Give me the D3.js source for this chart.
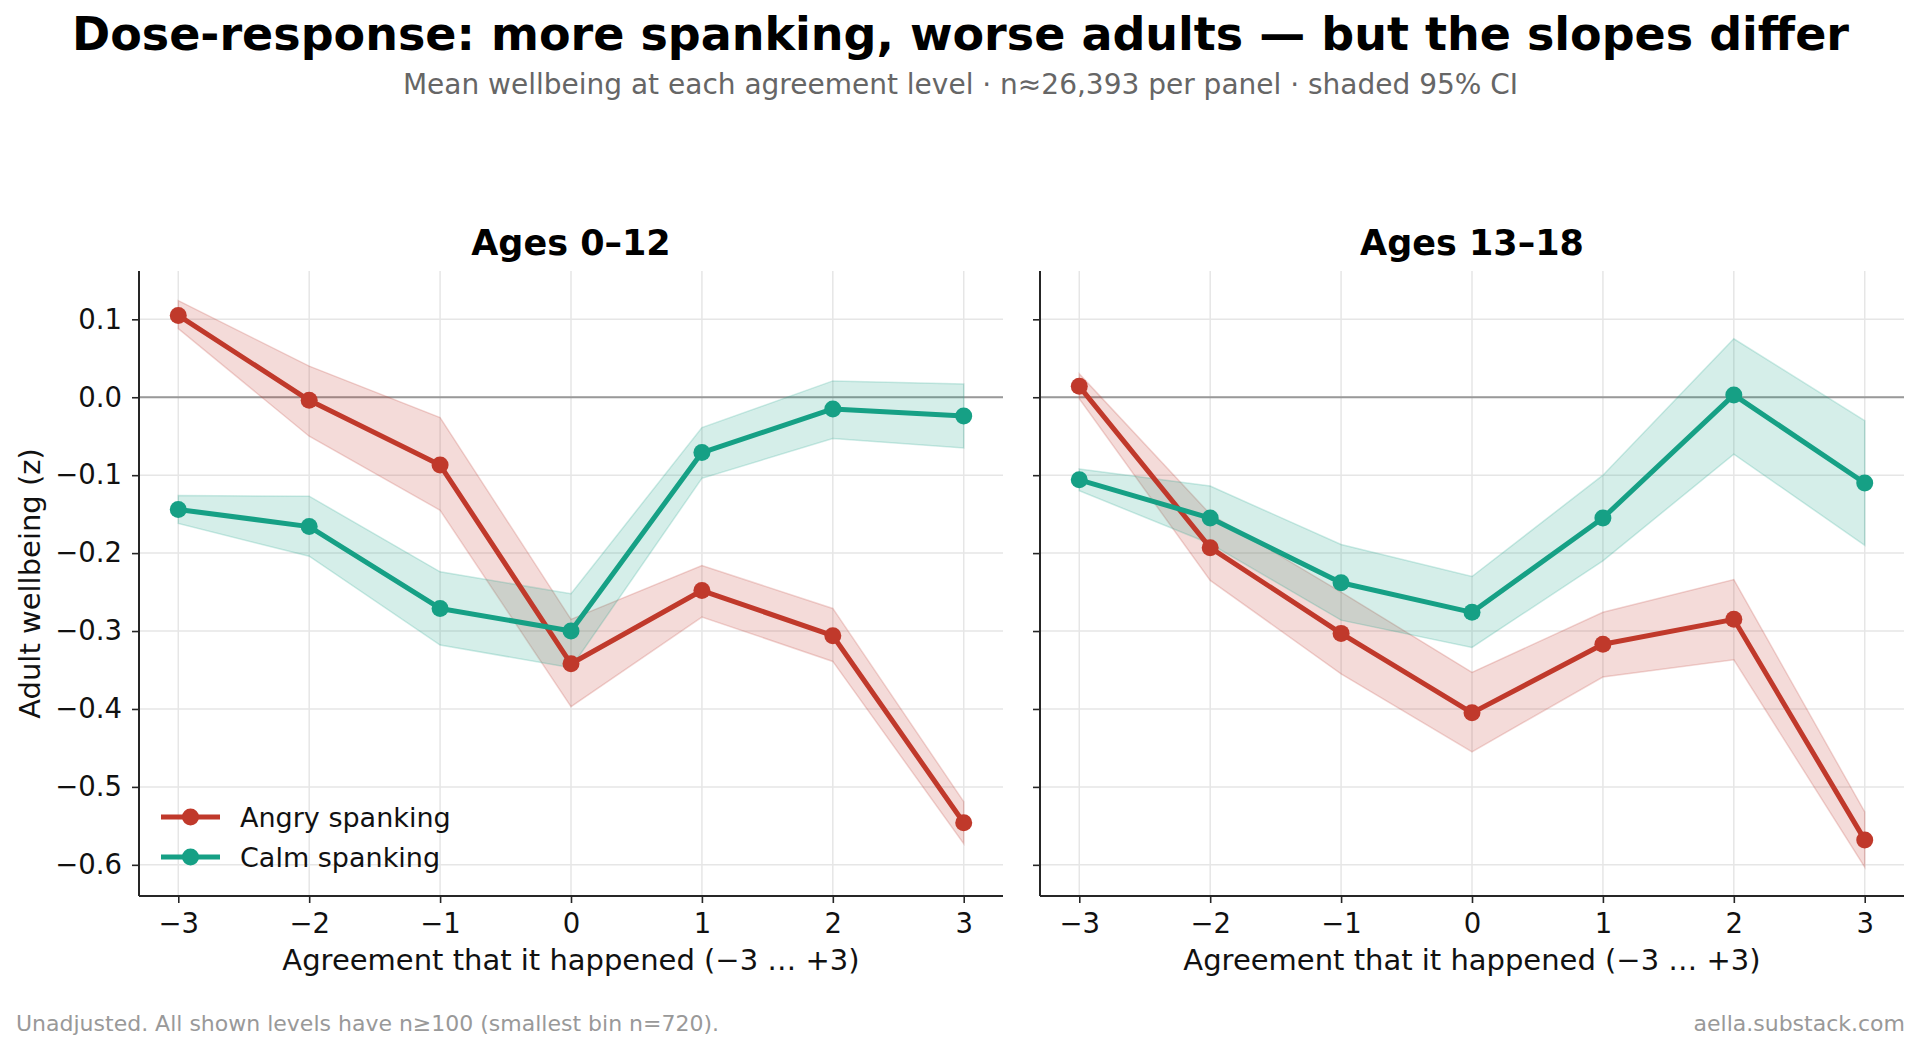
<!DOCTYPE html>
<html>
<head>
<meta charset="utf-8">
<script src="https://cdn.jsdelivr.net/npm/d3@7/dist/d3.min.js"></script>
<style>
  body { margin: 0; background: #fff; }
  text { font-family: "DejaVu Sans", sans-serif; }
</style>
</head>
<body>
<div id="chart"></div>
<script>
// agreement levels (x) and panels
var levels = [-3, -2, -1, 0, 1, 2, 3];
var panelTitles = ["Ages 0\u201312", "Ages 13\u201318"];
var yTicks = [-0.6, -0.5, -0.4, -0.3, -0.2, -0.1, 0.0, 0.1];

// ages 0-12
var angryYoung   = [0.105, -0.004, -0.087, -0.342, -0.248, -0.306, -0.546];
var angryYoungLo = [0.088, -0.050, -0.145, -0.397, -0.282, -0.339, -0.573];
var angryYoungHi = [0.124,  0.040, -0.026, -0.285, -0.216, -0.271, -0.519];
var calmYoung    = [-0.144, -0.166, -0.271, -0.300, -0.071, -0.015, -0.024];
var calmYoungLo  = [-0.162, -0.204, -0.318, -0.347, -0.104, -0.053, -0.065];
var calmYoungHi  = [-0.126, -0.127, -0.224, -0.252, -0.039,  0.021,  0.017];

// ages 13-18
var angryTeen    = [0.014, -0.193, -0.303, -0.405, -0.317, -0.285, -0.568];
var angryTeenLo  = [-0.002, -0.235, -0.355, -0.455, -0.359, -0.337, -0.603];
var angryTeenHi  = [0.030, -0.150, -0.250, -0.353, -0.276, -0.234, -0.532];
var calmTeen     = [-0.106, -0.155, -0.238, -0.276, -0.155, 0.003, -0.110];
var calmTeenLo   = [-0.120, -0.188, -0.286, -0.321, -0.210, -0.073, -0.190];
var calmTeenHi   = [-0.092, -0.114, -0.189, -0.230, -0.100, 0.075, -0.030];

var seriesNames = ["Angry spanking", "Calm spanking"];
var colors = {"Angry spanking": "#c0392b", "Calm spanking": "#16a085"};

var panelData = [
    [{name: "Angry spanking", mean: angryYoung, lo: angryYoungLo, hi: angryYoungHi},
     {name: "Calm spanking", mean: calmYoung, lo: calmYoungLo, hi: calmYoungHi}],
    [{name: "Angry spanking", mean: angryTeen, lo: angryTeenLo, hi: angryTeenHi},
     {name: "Calm spanking", mean: calmTeen, lo: calmTeenLo, hi: calmTeenHi}]
];

var width = 1921, height = 1050;
var plotTop = 271, plotBottom = 896;
var panelLefts = [139, 1040], panelWidth = 864;
var lineW = 5, dotR = 8.5;

var svg = d3.select("#chart").append("svg")
    .attr("width", width)
    .attr("height", height);

// titles
svg.append("text")
    .attr("x", width / 2).attr("y", 50)
    .attr("text-anchor", "middle")
    .style("font-size", "46px").style("font-weight", "bold")
    .text("Dose-response: more spanking, worse adults \u2014 but the slopes differ");

svg.append("text")
    .attr("x", width / 2).attr("y", 94)
    .attr("text-anchor", "middle")
    .style("font-size", "28px").attr("fill", "#666")
    .text("Mean wellbeing at each agreement level \u00b7 n\u224826,393 per panel \u00b7 shaded 95% CI");

var y = d3.scaleLinear().domain([-0.64, 0.162]).range([plotBottom, plotTop]);
var fmtY = d3.format(".1f");

panelData.forEach(function (series, p) {
    var left = panelLefts[p];
    var x = d3.scaleLinear().domain([-3.3, 3.3]).range([left, left + panelWidth]);
    var g = svg.append("g");

    // grid
    g.selectAll(".hgrid").data(yTicks).enter().append("line")
        .attr("x1", left).attr("x2", left + panelWidth)
        .attr("y1", function (d) { return y(d); })
        .attr("y2", function (d) { return y(d); })
        .attr("stroke", "#e6e6e6").attr("stroke-width", 1.5);
    g.selectAll(".vgrid").data(levels).enter().append("line")
        .attr("x1", function (d) { return x(d); })
        .attr("x2", function (d) { return x(d); })
        .attr("y1", plotTop).attr("y2", plotBottom)
        .attr("stroke", "#e6e6e6").attr("stroke-width", 1.5);

    // zero line
    g.append("line")
        .attr("x1", left).attr("x2", left + panelWidth)
        .attr("y1", y(0)).attr("y2", y(0))
        .attr("stroke", "#999").attr("stroke-width", 2);

    // CI bands
    var area = d3.area()
        .x(function (d, i) { return x(levels[i]); })
        .y0(function (d) { return y(d[0]); })
        .y1(function (d) { return y(d[1]); });
    series.forEach(function (s) {
        var pts = s.lo.map(function (v, i) { return [v, s.hi[i]]; });
        g.append("path")
            .attr("d", area(pts))
            .attr("fill", colors[s.name]).attr("fill-opacity", 0.18)
            .attr("stroke", colors[s.name]).attr("stroke-opacity", 0.2)
            .attr("stroke-width", 1.5);
    });

    // lines and markers
    var line = d3.line()
        .x(function (d, i) { return x(levels[i]); })
        .y(function (d) { return y(d); });
    series.forEach(function (s) {
        g.append("path")
            .attr("d", line(s.mean))
            .attr("fill", "none")
            .attr("stroke", colors[s.name]).attr("stroke-width", lineW)
            .attr("stroke-linejoin", "round");
        g.selectAll(null).data(s.mean).enter().append("circle")
            .attr("cx", function (d, i) { return x(levels[i]); })
            .attr("cy", function (d) { return y(d); })
            .attr("r", dotR)
            .attr("fill", colors[s.name]);
    });

    // axes
    var xAxis = d3.axisBottom(x).tickValues(levels).tickSize(7).tickPadding(10)
        .tickFormat(d3.format("d"));
    var gx = g.append("g").attr("transform", "translate(0," + plotBottom + ")").call(xAxis);
    var yAxis = d3.axisLeft(y).tickValues(yTicks).tickSize(7).tickPadding(10)
        .tickFormat(p === 0 ? fmtY : "");
    var gy = g.append("g").attr("transform", "translate(" + left + ",0)").call(yAxis);

    [gx, gy].forEach(function (ax) {
        ax.select(".domain").attr("stroke", "#262626").attr("stroke-width", 2);
        ax.selectAll(".tick line").attr("stroke", "#262626").attr("stroke-width", 1.6);
        ax.selectAll(".tick text").attr("fill", "#111")
            .style("font-size", "27.5px").style("font-family", "DejaVu Sans");
    });
    gx.select(".domain").attr("d", "M" + left + ",0H" + (left + panelWidth));
    gy.select(".domain").attr("d", "M0," + plotBottom + "V" + plotTop);

    // panel title
    g.append("text")
        .attr("x", left + panelWidth / 2).attr("y", 255)
        .attr("text-anchor", "middle")
        .style("font-size", "35px").style("font-weight", "bold")
        .text(panelTitles[p]);

    // x label
    g.append("text")
        .attr("x", left + panelWidth / 2).attr("y", 970)
        .attr("text-anchor", "middle")
        .style("font-size", "29px").attr("fill", "#111")
        .text("Agreement that it happened (\u22123 \u2026 +3)");

    if (p === 0) {
        g.append("text")
            .attr("transform", "translate(40," + ((plotTop + plotBottom) / 2) + ") rotate(-90)")
            .attr("text-anchor", "middle")
            .style("font-size", "29px").attr("fill", "#111")
            .text("Adult wellbeing (z)");

        // legend
        var leg = g.append("g").attr("transform", "translate(" + (left + 22) + ",817)");
        seriesNames.forEach(function (name, i) {
            var row = leg.append("g").attr("transform", "translate(0," + (i * 40) + ")");
            row.append("line").attr("x1", 0).attr("x2", 59)
                .attr("stroke", colors[name]).attr("stroke-width", lineW);
            row.append("circle").attr("cx", 29.5).attr("r", dotR).attr("fill", colors[name]);
            row.append("text").attr("x", 79).attr("y", 9.5)
                .style("font-size", "27px").attr("fill", "#111")
                .text(name);
        });
    }
});

// footer
svg.append("text")
    .attr("x", 16).attr("y", 1031)
    .style("font-size", "22px").attr("fill", "#999")
    .text("Unadjusted. All shown levels have n\u2265100 (smallest bin n=720).");
svg.append("text")
    .attr("x", 1905).attr("y", 1031)
    .attr("text-anchor", "end")
    .style("font-size", "22px").attr("fill", "#999")
    .text("aella.substack.com");
</script>
</body>
</html>
